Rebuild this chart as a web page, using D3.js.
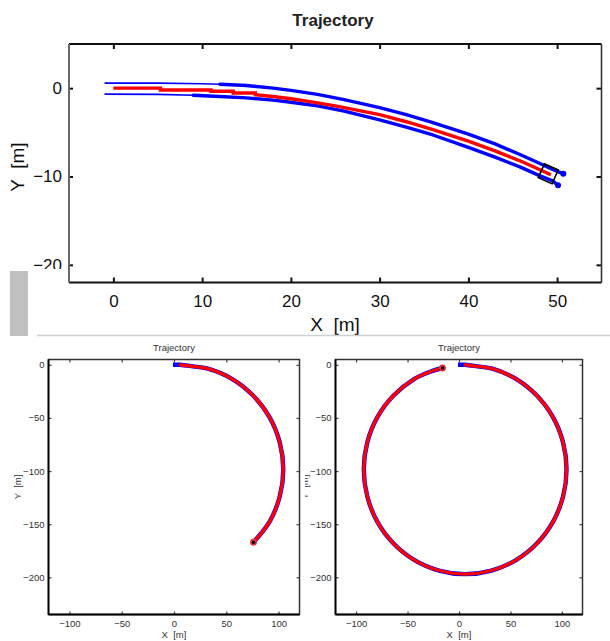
<!DOCTYPE html>
<html>
<head>
<meta charset="utf-8">
<script src="https://cdn.jsdelivr.net/npm/d3@7"></script>
<style>
  body { margin: 0; background: #fff; }
  svg { display: block; font-family: "Liberation Sans", Arial, sans-serif; }
</style>
</head>
<body>
<div id="chart"></div>
<script>
// ---- top panel data ----
const topTicksX = [0, 10, 20, 30, 40, 50];
const topTicksY = [-20, -10, 0];
const topRedX = [0, 5.3, 5.3, 11, 11, 13.5, 13.5, 16, 16, 18, 20, 22, 25, 28, 30, 33, 36, 40, 43, 46, 48, 49.3];
const topRedY = [0, 0, -0.2, -0.2, -0.35, -0.35, -0.55, -0.55, -0.75, -0.95, -1.2, -1.5, -2.0, -2.6, -3.0, -3.8, -4.7, -6.0, -7.1, -8.3, -9.2, -9.8];
const topUpperX = [-1, 5, 10, 12, 15, 18, 20, 23, 26, 30, 33, 36, 40, 43, 46, 48, 49.5, 50.7];
const topUpperY = [0.57, 0.57, 0.5, 0.45, 0.3, 0.0, -0.25, -0.7, -1.3, -2.2, -3.0, -3.9, -5.2, -6.3, -7.6, -8.5, -9.2, -9.7];
const topLowerX = [-1, 5, 9, 12, 15, 18, 20, 23, 26, 30, 33, 36, 40, 43, 46, 48, 49.5, 50.1];
const topLowerY = [-0.68, -0.7, -0.8, -0.95, -1.1, -1.35, -1.6, -2.0, -2.6, -3.6, -4.4, -5.3, -6.7, -7.8, -9.0, -9.9, -10.5, -11.0];
const upperThickFrom = 12;
const lowerThickFrom = 9;
const vehicle = { x: 49.0, y: -9.7, heading: -24, size: 1.7 };

// ---- bottom panels data ----
const botTicksX = [-100, -50, 0, 50, 100];
const botTicksY = [-200, -150, -100, -50, 0];
// left panel: part of a turn
const arcX = [-1, 6, 18, 31.5, 55.3, 75.6, 91.3, 101.1, 104.5, 101.1, 91.3, 76];
const arcY = [0, 0, -1.5, -3.4, -13.2, -28.9, -49.3, -73.0, -98.5, -124, -147.8, -167];
// right panel: almost full circle
const circX = [-1, 6, 18, 31.5, 55.3, 75.6, 91.3, 101.1, 104.5, 101.1, 91.3, 75.6, 55.3, 31.5, 6, -19.5, -43.3, -63.6, -79.3, -89.1, -92.5, -89.1, -79.3, -63.6, -43.3, -28, -16];
const circY = [0, 0, -1.5, -3.4, -13.2, -28.9, -49.3, -73.0, -98.5, -124, -147.8, -168.2, -183.8, -193.6, -197, -193.6, -183.8, -168.2, -147.8, -124, -98.5, -73, -49.3, -28.9, -13.2, -6.5, -3];

const zip = (xs, ys) => xs.map((x, i) => [x, ys[i]]);

const svg = d3.select("#chart").append("svg")
  .attr("width", 610).attr("height", 641);

// ================= TOP PANEL =================
const xT = d3.scaleLinear().domain([-5, 55]).range([69, 601.5]);
const yT = d3.scaleLinear().domain([-22, 5]).range([282.5, 44]);
const lineT = d3.line().x(d => xT(d[0])).y(d => yT(d[1]));

const gT = svg.append("g");

[[zip(topUpperX, topUpperY), upperThickFrom], [zip(topLowerX, topLowerY), lowerThickFrom]].forEach(([pts, from]) => {
  const thin = pts.filter(d => d[0] <= from);
  const thick = pts.filter(d => d[0] >= from);
  gT.append("path").attr("d", lineT(thin))
    .attr("fill", "none").attr("stroke", "#0000ff").attr("stroke-width", 1.6);
  gT.append("path").attr("d", lineT(thick))
    .attr("fill", "none").attr("stroke", "#0000ff").attr("stroke-width", 3.4)
    .attr("stroke-linecap", "round").attr("stroke-linejoin", "round");
  const last = thick[thick.length - 1];
  gT.append("circle").attr("cx", xT(last[0])).attr("cy", yT(last[1])).attr("r", 3).attr("fill", "#0000ff");
});
gT.append("path").attr("d", lineT(zip(topRedX, topRedY)))
  .attr("fill", "none").attr("stroke", "#ff0000").attr("stroke-width", 3.4);

// vehicle outline
const vs = xT(vehicle.size) - xT(0);
gT.append("rect")
  .attr("x", -vs / 2).attr("y", -vs / 2).attr("width", vs).attr("height", vs)
  .attr("fill", "none").attr("stroke", "#000").attr("stroke-width", 1.6)
  .attr("transform", `translate(${xT(vehicle.x)},${yT(vehicle.y)}) rotate(${-vehicle.heading})`);

// ticks / labels
const axT = gT.append("g");
axT.append("g").attr("transform", "translate(0,282.5)")
  .call(d3.axisBottom(xT).tickValues(topTicksX).tickSize(-5).tickPadding(12))
  .call(g => g.select(".domain").remove());
axT.append("g").attr("transform", "translate(0,44)")
  .call(d3.axisTop(xT).tickValues(topTicksX).tickSize(-5).tickFormat(""))
  .call(g => g.select(".domain").remove());
axT.append("g").attr("transform", "translate(69,0)")
  .call(d3.axisLeft(yT).tickValues(topTicksY).tickSize(-4).tickPadding(7))
  .call(g => g.select(".domain").remove());
axT.append("g").attr("transform", "translate(601.5,0)")
  .call(d3.axisRight(yT).tickValues(topTicksY).tickSize(-5).tickFormat(""))
  .call(g => g.select(".domain").remove());
axT.selectAll(".tick line").attr("stroke", "#111").attr("stroke-width", 2);
axT.selectAll("text").attr("font-size", 17).attr("fill", "#111")
  .attr("font-family", "'Liberation Sans', Arial, sans-serif");

// frame
gT.append("line").attr("x1", 69).attr("x2", 601.5).attr("y1", 44).attr("y2", 44).attr("stroke", "#111").attr("stroke-width", 2.2);
gT.append("line").attr("x1", 69).attr("x2", 601.5).attr("y1", 282.5).attr("y2", 282.5).attr("stroke", "#111").attr("stroke-width", 2.2);
gT.append("line").attr("x1", 69).attr("x2", 69).attr("y1", 44).attr("y2", 282.5).attr("stroke", "#666").attr("stroke-width", 2);
gT.append("line").attr("x1", 601.5).attr("x2", 601.5).attr("y1", 44).attr("y2", 282.5).attr("stroke", "#333").attr("stroke-width", 1.6);

gT.append("text").attr("x", 333).attr("y", 26).attr("text-anchor", "middle")
  .attr("font-size", 17).attr("font-weight", "bold").attr("fill", "#222").text("Trajectory");
gT.append("text").attr("x", 335).attr("y", 331).attr("text-anchor", "middle")
  .attr("font-size", 19).attr("fill", "#111").attr("xml:space", "preserve").text("X  [m]");
gT.append("text").attr("transform", "translate(24,167) rotate(-90)").attr("text-anchor", "middle")
  .attr("font-size", 19).attr("fill", "#111").attr("xml:space", "preserve").text("Y  [m]");

// crop artefacts
svg.append("rect").attr("x", 0).attr("y", 269).attr("width", 66).attr("height", 67).attr("fill", "#fff");
svg.append("rect").attr("x", 10).attr("y", 271).attr("width", 18).attr("height", 65).attr("fill", "#c0c0c0");
svg.append("line").attr("x1", 37).attr("x2", 610).attr("y1", 335.5).attr("y2", 335.5).attr("stroke", "#cfcfcf").attr("stroke-width", 1.5);

// ================= BOTTOM PANELS =================
svg.append("defs").append("clipPath").attr("id", "rightClip")
  .append("rect").attr("x", 305).attr("y", 336).attr("width", 305).attr("height", 305);

function panel(x0, x1, pts, clip) {
  const x = d3.scaleLinear().domain([-120, 120]).range([x0, x1]);
  const y = d3.scaleLinear().domain([-235, 5]).range([614.5, 359.5]);
  const line = d3.line().x(d => x(d[0])).y(d => y(d[1])).curve(d3.curveCatmullRom);
  const g = svg.append("g");
  if (clip) g.attr("clip-path", "url(#rightClip)");

  g.append("path").attr("d", line(pts)).attr("fill", "none")
    .attr("stroke", "#0000ff").attr("stroke-width", 4.4).attr("stroke-linecap", "butt");
  g.append("path").attr("d", line(pts.slice(1))).attr("fill", "none")
    .attr("stroke", "#ff0000").attr("stroke-width", 3.3).attr("stroke-linecap", "round");
  const end = pts[pts.length - 1];
  g.append("circle").attr("cx", x(end[0])).attr("cy", y(end[1])).attr("r", 3.4).attr("fill", "#e8303a");
  g.append("circle").attr("cx", x(end[0])).attr("cy", y(end[1])).attr("r", 1.7).attr("fill", "#000");

  const ax = g.append("g");
  ax.append("g").attr("transform", "translate(0,614.5)")
    .call(d3.axisBottom(x).tickValues(botTicksX).tickSize(-3).tickPadding(5.5))
    .call(a => a.select(".domain").remove());
  ax.append("g").attr("transform", "translate(0,359.5)")
    .call(d3.axisTop(x).tickValues(botTicksX).tickSize(-3).tickFormat(""))
    .call(a => a.select(".domain").remove());
  ax.append("g").attr("transform", `translate(${x0},0)`)
    .call(d3.axisLeft(y).tickValues(botTicksY).tickSize(-3).tickPadding(4))
    .call(a => a.select(".domain").remove());
  ax.append("g").attr("transform", `translate(${x1},0)`)
    .call(d3.axisRight(y).tickValues(botTicksY).tickSize(-3).tickFormat(""))
    .call(a => a.select(".domain").remove());
  ax.selectAll(".tick line").attr("stroke", "#444").attr("stroke-width", 1.2);
  ax.selectAll("text").attr("font-size", 9.5).attr("fill", "#333")
    .attr("font-family", "'Liberation Sans', Arial, sans-serif");

  g.append("rect").attr("x", x0).attr("y", 359.5).attr("width", x1 - x0).attr("height", 255)
    .attr("fill", "none").attr("stroke", "#333").attr("stroke-width", 1.5);
  g.append("line").attr("x1", x0).attr("x2", x1).attr("y1", 614.5).attr("y2", 614.5).attr("stroke", "#000").attr("stroke-width", 1.8);
  g.append("line").attr("x1", x0).attr("x2", x0).attr("y1", 359.5).attr("y2", 614.5).attr("stroke", "#000").attr("stroke-width", 1.8);

  const cx = (x0 + x1) / 2;
  g.append("text").attr("x", cx).attr("y", 351).attr("text-anchor", "middle")
    .attr("font-size", 9.5).attr("fill", "#333").text("Trajectory");
  g.append("text").attr("x", cx).attr("y", 638).attr("text-anchor", "middle")
    .attr("font-size", 9.5).attr("fill", "#333").attr("xml:space", "preserve").text("X  [m]");
  g.append("text").attr("transform", `translate(${x0 - 27.5},487) rotate(-90)`).attr("text-anchor", "middle")
    .attr("font-size", 9.5).attr("fill", "#333").attr("xml:space", "preserve").text("Y  [m]");
}

panel(48.5, 299.5, zip(arcX, arcY), false);
panel(335.5, 582.5, zip(circX, circY), true);
</script>
</body>
</html>
